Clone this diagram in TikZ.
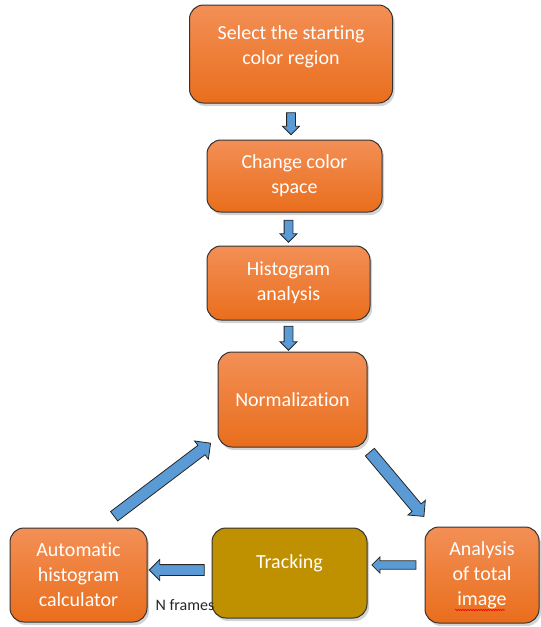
\documentclass[tikz,border=0pt]{standalone}
\usepackage{fontspec}
\setmainfont{Carlito}[Ligatures=NoCommon]
\usetikzlibrary{shapes.arrows,shadows,decorations.pathmorphing}
\definecolor{orangetop}{RGB}{243,143,86}
\definecolor{orangebot}{RGB}{233,110,28}
\definecolor{trackgold}{RGB}{191,144,0}
\definecolor{arrowblue}{RGB}{91,155,213}

\begin{document}
\begin{tikzpicture}[x=1pt,y=-1pt,
	box/.style={draw=black!80,line width=1pt,rounded corners=14pt,top color=orangetop,bottom color=orangebot,
		drop shadow={shadow xshift=2pt,shadow yshift=-3pt,opacity=0.35},
		text=white,align=center,font=\fontsize{20}{25}\selectfont,inner sep=0pt},
	arr/.style={single arrow,draw=black!85,line width=0.8pt,fill=arrowblue,inner xsep=0pt,
		inner ysep=#1,single arrow head extend=#1,sloped,allow upside down,midway},
	arr/.default=4pt]
	\useasboundingbox (0,0) rectangle (541,627);
	\node[box,minimum width=203pt,minimum height=98pt,text depth=18pt] (sel) at (291,54) {Select the starting\\color region};
	\node[box,minimum width=175pt,minimum height=72pt] (chg) at (294.5,176) {Change color\\space};
	\node[box,minimum width=163pt,minimum height=74pt] (hist) at (288.5,283) {Histogram\\analysis};
	\node[box,minimum width=149pt,minimum height=95pt] (norm) at (292.5,399.5) {Normalization};
	\node[box,minimum width=114pt,minimum height=96pt] (anal) at (482,575) {Analysis\\of total\\image};
	\node[box,top color=trackgold,bottom color=trackgold,minimum width=155pt,minimum height=90pt,text depth=22pt] (track) at (289.5,573) {Tracking};
	\node[box,minimum width=137pt,minimum height=94pt] (auto) at (78.5,575) {Automatic\\histogram\\calculator};
	\node[font=\fontsize{16}{18}\selectfont,text=black!85,anchor=east,inner sep=0pt] (nfr) at ([xshift=3pt,yshift=13pt]track.south west) {N frames};
	\draw[red,line width=0.6pt,decorate,decoration={snake,amplitude=0.7pt,segment length=2.5pt}]
		([xshift=-27pt,yshift=-35pt]anal.center) -- ([xshift=23pt,yshift=-35pt]anal.center);
	\path (sel.south) -- (sel.south |- chg.north) node[arr,minimum height=22pt] {};
	\path (hist.north |- chg.south) -- (hist.north) node[arr,minimum height=22pt] {};
	\path (hist.south) -- (hist.south |- norm.north) node[arr,minimum height=24pt] {};
	\path ([xshift=1pt,yshift=-3pt]norm.south east) -- ([xshift=-3pt,yshift=13pt]anal.north west) node[arr=5.5pt,minimum height=84pt] {};
	\path ([yshift=10pt]anal.west) -- ([yshift=10pt]anal.west -| track.east) node[arr=3.8pt,minimum height=44pt] {};
	\path ([yshift=3pt]track.west) -- ([yshift=3pt]track.west -| auto.east) node[arr=5pt,minimum height=55pt] {};
	\path ([xshift=-35pt,yshift=10pt]auto.north east) -- ([xshift=-10pt,yshift=2pt]norm.south west) node[arr=5.5pt,minimum height=121pt] {};
\end{tikzpicture}
\end{document}
